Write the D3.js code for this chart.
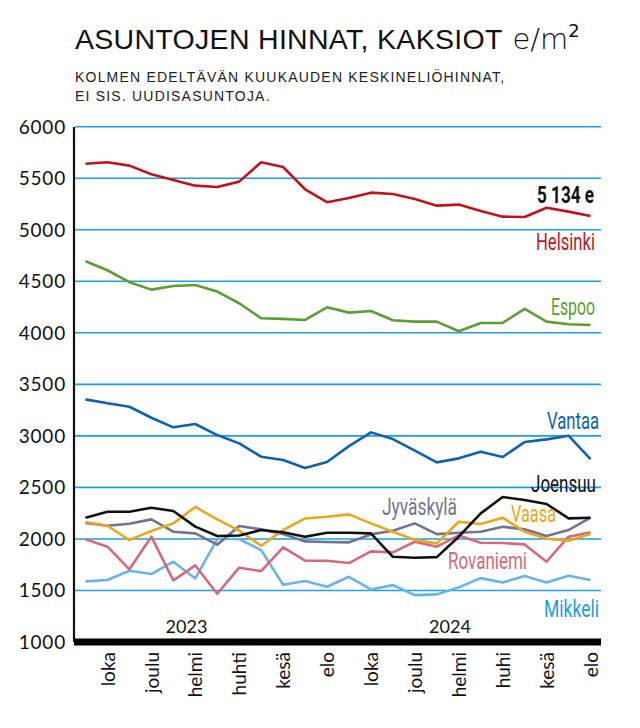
<!DOCTYPE html>
<html><head><meta charset="utf-8">
<script src="https://cdn.jsdelivr.net/npm/d3@7"></script>
<style>
body{margin:0;background:#fff;}
svg{display:block;}
</style></head>
<body>
<svg id="c" width="640" height="728"></svg>
<script>
const months = ["syys22","loka22","marras22","joulu22","tammi23","helmi23","maalis23","huhti23","touko23","kesä23","heinä23","elo23","syys23","loka23","marras23","joulu23","tammi24","helmi24","maalis24","huhti24","touko24","kesä24","heinä24","elo24"];
const tickLabels = ["loka","joulu","helmi","huhti","kesä","elo","loka","joulu","helmi","huhi","kesä","elo"];
const tickIndex = [1,3,5,7,9,11,13,15,17,19,21,23];
const yTicks = [1000,1500,2000,2500,3000,3500,4000,4500,5000,5500,6000];
const years = ["2023","2024"];
const yearIndex = [4.6,16.6];

const helsinki = [5641,5655,5622,5538,5483,5428,5415,5467,5655,5609,5393,5267,5308,5360,5347,5299,5234,5244,5182,5127,5124,5214,5176,5134];
const espoo = [4694,4607,4491,4419,4455,4464,4400,4287,4141,4135,4125,4248,4196,4212,4122,4109,4109,4015,4096,4096,4232,4109,4083,4076];
const vantaa = [3354,3316,3283,3176,3083,3115,3008,2927,2798,2766,2688,2746,2901,3034,2969,2856,2743,2782,2847,2795,2940,2966,3002,2775];
const joensuu = [2206,2264,2264,2303,2271,2119,2028,2034,2086,2064,2022,2060,2060,2054,1827,1818,1824,2022,2248,2407,2377,2339,2200,2206];
const vaasa = [2164,2128,1989,2077,2151,2310,2190,2080,1934,2086,2199,2216,2238,2151,2070,1989,1957,2167,2145,2206,2070,2002,1983,2047];
const jyvaskyla = [2154,2128,2148,2190,2070,2054,1944,2125,2093,2047,1976,1970,1967,2044,2080,2151,2047,2060,2070,2119,2093,2028,2086,2206];
const rovaniemi = [1996,1925,1705,2022,1598,1743,1468,1721,1688,1918,1789,1789,1766,1879,1870,1973,1925,2034,1963,1960,1947,1779,2022,2064];
const mikkeli = [1588,1601,1692,1659,1779,1617,1999,1999,1892,1556,1591,1536,1633,1510,1552,1455,1462,1530,1620,1578,1640,1578,1643,1601];

const series = [
  {name:"Mikkeli", values:mikkeli, color:"#68b4e6", label:"#1b9ce0"},
  {name:"Rovaniemi", values:rovaniemi, color:"#d46a7c", label:"#d46a7c"},
  {name:"Jyväskylä", values:jyvaskyla, color:"#6f7590", label:"#6f7590"},
  {name:"Vaasa", values:vaasa, color:"#e9a71c", label:"#e9a71c"},
  {name:"Joensuu", values:joensuu, color:"#111111", label:"#111111"},
  {name:"Vantaa", values:vantaa, color:"#0d62b0", label:"#0d62b0"},
  {name:"Espoo", values:espoo, color:"#5b9f32", label:"#5b9f32"},
  {name:"Helsinki", values:helsinki, color:"#c0141c", label:"#c0141c"}
];
const labelPos = {
  "Helsinki":[595,250,59], "Espoo":[595,315,44], "Vantaa":[599,429,52], "Joensuu":[596,492,65],
  "Jyväskylä":[457,515,75], "Vaasa":[556,522,45], "Rovaniemi":[527,569,79], "Mikkeli":[599,617,55]
};

const svg = d3.select("#c");
const x = d3.scalePoint().domain(months).range([85.5, 590.5]);
const y = d3.scaleLinear().domain([1000,6000]).range([642,126.7]);

// title
const t = svg.append("text").attr("x",75).attr("y",49).attr("font-family","Liberation Sans, Arial, sans-serif").attr("fill","#111");
t.append("tspan").attr("font-size",28.5).attr("letter-spacing",0.3).text("ASUNTOJEN HINNAT, KAKSIOT ");
t.append("tspan").attr("font-size",29).attr("font-family","DejaVu Sans, sans-serif").attr("font-weight",200).attr("dx",2).text("e/m");
t.append("tspan").attr("font-size",18).attr("font-family","DejaVu Sans, sans-serif").attr("dy",-12).text("2");
svg.append("text").attr("x",75).attr("y",82).attr("font-family","Liberation Sans, Arial, sans-serif").attr("font-size",14).attr("letter-spacing",1.2).attr("fill","#222").text("KOLMEN EDELTÄVÄN KUUKAUDEN KESKINELIÖHINNAT,");
svg.append("text").attr("x",75).attr("y",101).attr("font-family","Liberation Sans, Arial, sans-serif").attr("font-size",14).attr("letter-spacing",1.2).attr("fill","#222").text("EI SIS. UUDISASUNTOJA.");

// gridlines
svg.append("g").selectAll("line").data(yTicks.filter(d=>d>1000)).join("line")
  .attr("x1",75).attr("x2",601).attr("y1",d=>y(d)).attr("y2",d=>y(d))
  .attr("stroke","#1d9fe0").attr("stroke-width",1.6);

// y axis
const yAxis = d3.axisLeft(y).tickValues(yTicks).tickSize(0).tickPadding(8).tickFormat(d3.format("d"));
const gy = svg.append("g").attr("transform","translate(74,0)").call(yAxis);
gy.select(".domain").remove();
gy.selectAll("text").attr("font-family","Lato, sans-serif").attr("font-size",19).attr("letter-spacing",0.8).attr("fill","#111").attr("dy","0.34em");
svg.append("line").attr("x1",74).attr("x2",74).attr("y1",127).attr("y2",642).attr("stroke","#111").attr("stroke-width",2.2);

// years
svg.append("g").selectAll("text").data(years).join("text")
  .attr("x",(d,i)=>85.5 + yearIndex[i]*(505/23)).attr("y",633).attr("text-anchor","middle")
  .attr("font-family","Lato, sans-serif").attr("font-size",18).attr("fill","#111").text(d=>d);

// lines
const line = d3.line().x((d,i)=>x(months[i])).y(d=>y(d));
svg.append("g").selectAll("path").data(series).join("path")
  .attr("d",d=>line(d.values)).attr("fill","none").attr("stroke",d=>d.color)
  .attr("stroke-width",2.6).attr("stroke-linejoin","round");

// bottom axis
const xAxis = d3.axisBottom(x).tickValues(tickIndex.map(i=>months[i])).tickSize(0).tickFormat((d,i)=>tickLabels[i]);
const gx = svg.append("g").attr("transform","translate(0,642)").call(xAxis);
gx.select(".domain").remove();
gx.selectAll("text").attr("font-family","Lato, sans-serif").attr("font-size",19).attr("fill","#111")
  .attr("transform","rotate(-90)").attr("text-anchor","end").attr("x",-10).attr("y",0).attr("dy","0.35em");
svg.append("rect").attr("x",74).attr("y",638.5).attr("width",527).attr("height",7).attr("fill","#000");

// labels
const lf = "Liberation Sans Narrow, Roboto, sans-serif";
svg.append("g").selectAll("text").data(series).join("text")
  .attr("x",d=>labelPos[d.name][0]).attr("y",d=>labelPos[d.name][1]).attr("text-anchor","end")
  .attr("font-family",lf).attr("font-size",24).attr("fill",d=>d.label)
  .attr("textLength",d=>labelPos[d.name][2]).attr("lengthAdjust","spacingAndGlyphs")
  .text(d=>d.name);
svg.append("text").attr("x",594).attr("y",203).attr("text-anchor","end").attr("font-family",lf)
  .attr("font-size",23).attr("font-weight","bold").attr("fill","#111")
  .attr("textLength",57).attr("lengthAdjust","spacingAndGlyphs")
  .text("5 134 e");
</script>
</body></html>
